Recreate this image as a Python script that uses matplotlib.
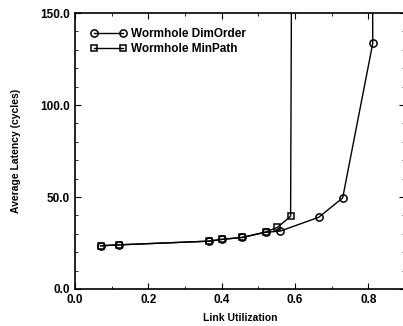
import matplotlib
matplotlib.use("Agg")
import matplotlib.pyplot as plt
from matplotlib.ticker import MultipleLocator, FormatStrFormatter

plt.rcParams["font.family"] = ["Liberation Sans", "DejaVu Sans"]
plt.rcParams["font.weight"] = "bold"

# Wormhole DimOrder (circles); last point is off the top of the chart
DIM_X = [0.07, 0.12, 0.365, 0.402, 0.455, 0.52, 0.56, 0.665, 0.73, 0.812, 0.810]
DIM_Y = [23.5, 24.0, 26.0, 27.0, 28.0, 30.8, 31.5, 39.0, 49.5, 133.5, 300.0]

# Wormhole MinPath (squares); last point is off the top of the chart
MIN_X = [0.07, 0.12, 0.365, 0.402, 0.455, 0.52, 0.552, 0.588, 0.593]
MIN_Y = [23.5, 24.0, 26.0, 27.0, 28.0, 31.0, 33.5, 39.5, 300.0]

fig = plt.figure(figsize=(4.03, 3.26), dpi=100)
ax = fig.add_axes([0.186, 0.1135, 0.819, 0.8465])

ax.plot(DIM_X, DIM_Y, color="black", lw=1.0, marker="o", ms=5.2, mfc="none",
        mec="black", mew=1.1, markevery=list(range(len(DIM_X) - 1)),
        label="Wormhole DimOrder")
ax.plot(MIN_X, MIN_Y, color="black", lw=1.0, marker="s", ms=4.8, mfc="none",
        mec="black", mew=1.1, markevery=list(range(len(MIN_X) - 1)),
        label="Wormhole MinPath")

ax.set_xlim(0, 0.9)
ax.set_ylim(0, 150)
ax.xaxis.set_major_locator(MultipleLocator(0.2))
ax.xaxis.set_minor_locator(MultipleLocator(0.1))
ax.yaxis.set_major_locator(MultipleLocator(50))
ax.yaxis.set_minor_locator(MultipleLocator(10))
ax.xaxis.set_major_formatter(FormatStrFormatter("%.1f"))
ax.yaxis.set_major_formatter(FormatStrFormatter("%.1f"))
ax.tick_params(which="both", direction="in", top=True, right=True, labelsize=8.5)
ax.tick_params(which="major", length=4)
ax.tick_params(which="minor", length=2)
for s in ax.spines.values():
    s.set_linewidth(1.2)

ax.set_xlabel("Link Utilization", fontsize=7.5, fontweight="bold", labelpad=5)
ax.set_ylabel("Average Latency (cycles)", fontsize=7.5, fontweight="bold", labelpad=14)

leg = ax.legend(loc="upper left", numpoints=2, frameon=False, fontsize=8.5,
                handlelength=3.1, handletextpad=0.35, labelspacing=0.22,
                borderaxespad=0.9)
for t in leg.get_texts():
    t.set_fontweight("bold")

fig.savefig("out.png", dpi=100)
